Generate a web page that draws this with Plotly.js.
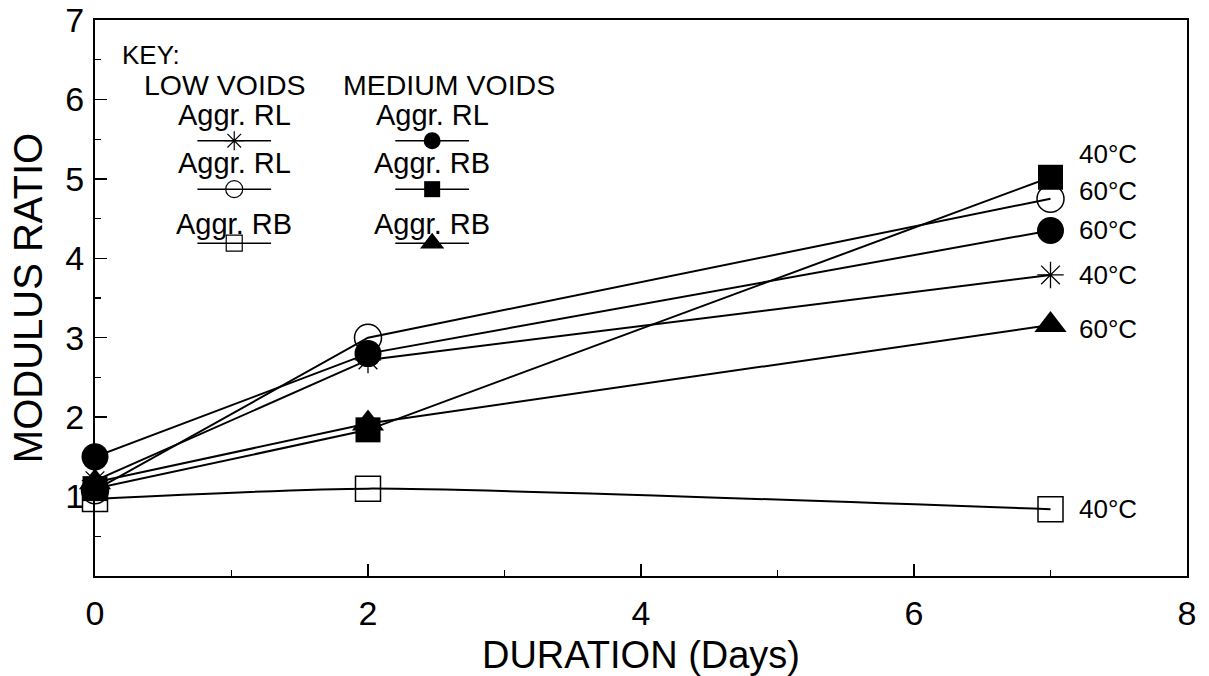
<!DOCTYPE html>
<html>
<head>
<meta charset="utf-8">
<script src="https://cdn.plot.ly/plotly-3.0.1.min.js"></script>
<style>
  html, body { margin: 0; padding: 0; background: #ffffff; }
  #chart { width: 1209px; height: 676px; }
</style>
</head>
<body>
<div id="chart"></div>
<script>
// ---- data ----
const days = [0, 2, 7];
const lowRL40 = [1.2, 2.72, 3.79];   // Low voids, Aggr. RL, 40°C (asterisk)
const lowRL60 = [1.08, 3.0, 4.75];   // Low voids, Aggr. RL, 60°C (open circle)
const lowRB40 = [0.97, 1.1, 0.84];   // Low voids, Aggr. RB, 40°C (open square)
const medRL60 = [1.5, 2.8, 4.35];    // Medium voids, Aggr. RL, 60°C (filled circle)
const medRB40 = [1.1, 1.84, 5.02];   // Medium voids, Aggr. RB, 40°C (filled square)
const medRB60 = [1.18, 1.92, 3.16];  // Medium voids, Aggr. RB, 60°C (filled triangle)

const tempLabels = ["40°C", "60°C", "40°C", "60°C", "40°C", "60°C"];
const keyGroups = ["LOW VOIDS", "MEDIUM VOIDS"];
const keyNames = ["Aggr. RL", "Aggr. RL", "Aggr. RB", "Aggr. RL", "Aggr. RB", "Aggr. RB"];
const xTicks = [0, 2, 4, 6, 8];
const yTicks = [1, 2, 3, 4, 5, 6, 7];

const FONT = "Liberation Sans, Arial, Helvetica, sans-serif";
const series = [
  {y: lowRL40, sym: "asterisk-open", size: 22, lw: 1.3, shape: "linear", key: 16},
  {y: lowRL60, sym: "circle-open", size: 27, lw: 1.5, shape: "linear", key: 17},
  {y: lowRB40, sym: "square-open", size: 25, lw: 1.5, shape: "spline", key: 16},
  {y: medRL60, sym: "circle", size: 27, lw: 0, shape: "linear", key: 17},
  {y: medRB40, sym: "square", size: 25, lw: 0, shape: "linear", key: 16},
  {y: medRB60, sym: "triangle-up", size: 28, lw: 0, shape: "linear", key: 21}
];
// offsets (pixels) of the temperature labels relative to each series' end point
const labelShift = [0, 8, 0, 0, 23, -4];
// key layout: columns (x in data units) and rows (y in data units)
const keyCols = [1.02, 2.47];
const keyTextRows = [5.80, 5.20, 4.43];
const keyLineRows = [5.48, 4.87, 4.19];
const keyHalf = 0.27;

const traces = [];
series.forEach(s => {
  traces.push({
    x: days, y: s.y, type: "scatter", mode: "lines+markers",
    line: {color: "#000", width: 2, shape: s.shape, smoothing: 0.6},
    marker: {symbol: s.sym, size: s.size, color: "#000", line: {color: "#000", width: s.lw}},
    showlegend: false, hoverinfo: "skip", cliponaxis: false
  });
});
// key samples
series.forEach((s, i) => {
  const c = keyCols[Math.floor(i / 3)];
  const r = keyLineRows[i % 3];
  traces.push({
    x: [c - keyHalf, c, c + keyHalf], y: [r, r, r], type: "scatter", mode: "lines+markers",
    line: {color: "#000", width: 1.4},
    marker: {symbol: s.sym, size: [0, s.key, 0], color: "#000", opacity: 1,
             line: {color: "#000", width: s.lw ? 1.2 : 0}},
    showlegend: false, hoverinfo: "skip"
  });
});

const annotations = [];
annotations.push({x: 0.18, y: 6.56, xref: "x", yref: "y", text: "KEY:", showarrow: false,
  xanchor: "left", yanchor: "middle", font: {family: FONT, size: 26, color: "#000"}});
keyGroups.forEach((g, j) => {
  annotations.push({x: j === 0 ? 0.95 : 2.59, y: 6.18, xref: "x", yref: "y", text: g, showarrow: false,
    xanchor: "center", yanchor: "middle", font: {family: FONT, size: 28.5, color: "#000"}});
});
keyNames.forEach((n, i) => {
  annotations.push({x: keyCols[Math.floor(i / 3)], y: keyTextRows[i % 3], xref: "x", yref: "y",
    text: n, showarrow: false, xanchor: "center", yanchor: "middle",
    font: {family: FONT, size: 29, color: "#000"}});
});
series.forEach((s, i) => {
  annotations.push({x: days[days.length - 1], y: s.y[s.y.length - 1], xref: "x", yref: "y",
    text: tempLabels[i], showarrow: false, xanchor: "left", yanchor: "middle",
    xshift: 26, yshift: labelShift[i], font: {family: FONT, size: 26, color: "#000"}});
});

const layout = {
  width: 1209, height: 676,
  margin: {l: 95, r: 22, t: 20, b: 100},
  paper_bgcolor: "#fff", plot_bgcolor: "#fff",
  font: {family: FONT, color: "#000"},
  xaxis: {
    range: [0, 8], tickvals: xTicks, ticktext: xTicks.map(String),
    ticks: "inside", ticklen: 12, tickwidth: 1.5, tickcolor: "#000",
    minor: {dtick: 1, ticks: "inside", ticklen: 6, tickwidth: 1.2, tickcolor: "#000"},
    showline: true, linecolor: "#000", linewidth: 2, mirror: true,
    showgrid: false, zeroline: false,
    tickfont: {family: FONT, size: 34, color: "#000"}, ticklabelstandoff: 6,
    title: {text: "DURATION (Days)", font: {family: FONT, size: 38, color: "#000"}, standoff: 12}
  },
  yaxis: {
    range: [0, 7], tickvals: yTicks, ticktext: yTicks.map(String),
    ticks: "inside", ticklen: 12, tickwidth: 1.5, tickcolor: "#000",
    minor: {dtick: 0.5, ticks: "inside", ticklen: 6, tickwidth: 1.2, tickcolor: "#000"},
    showline: true, linecolor: "#000", linewidth: 2, mirror: true,
    showgrid: false, zeroline: false,
    tickfont: {family: FONT, size: 34, color: "#000"}, ticklabelstandoff: 2,
    title: {text: "MODULUS RATIO", font: {family: FONT, size: 40, color: "#000"}, standoff: 10}
  },
  annotations: annotations
};

Plotly.newPlot("chart", traces, layout, {staticPlot: true, displayModeBar: false});
</script>
</body>
</html>
